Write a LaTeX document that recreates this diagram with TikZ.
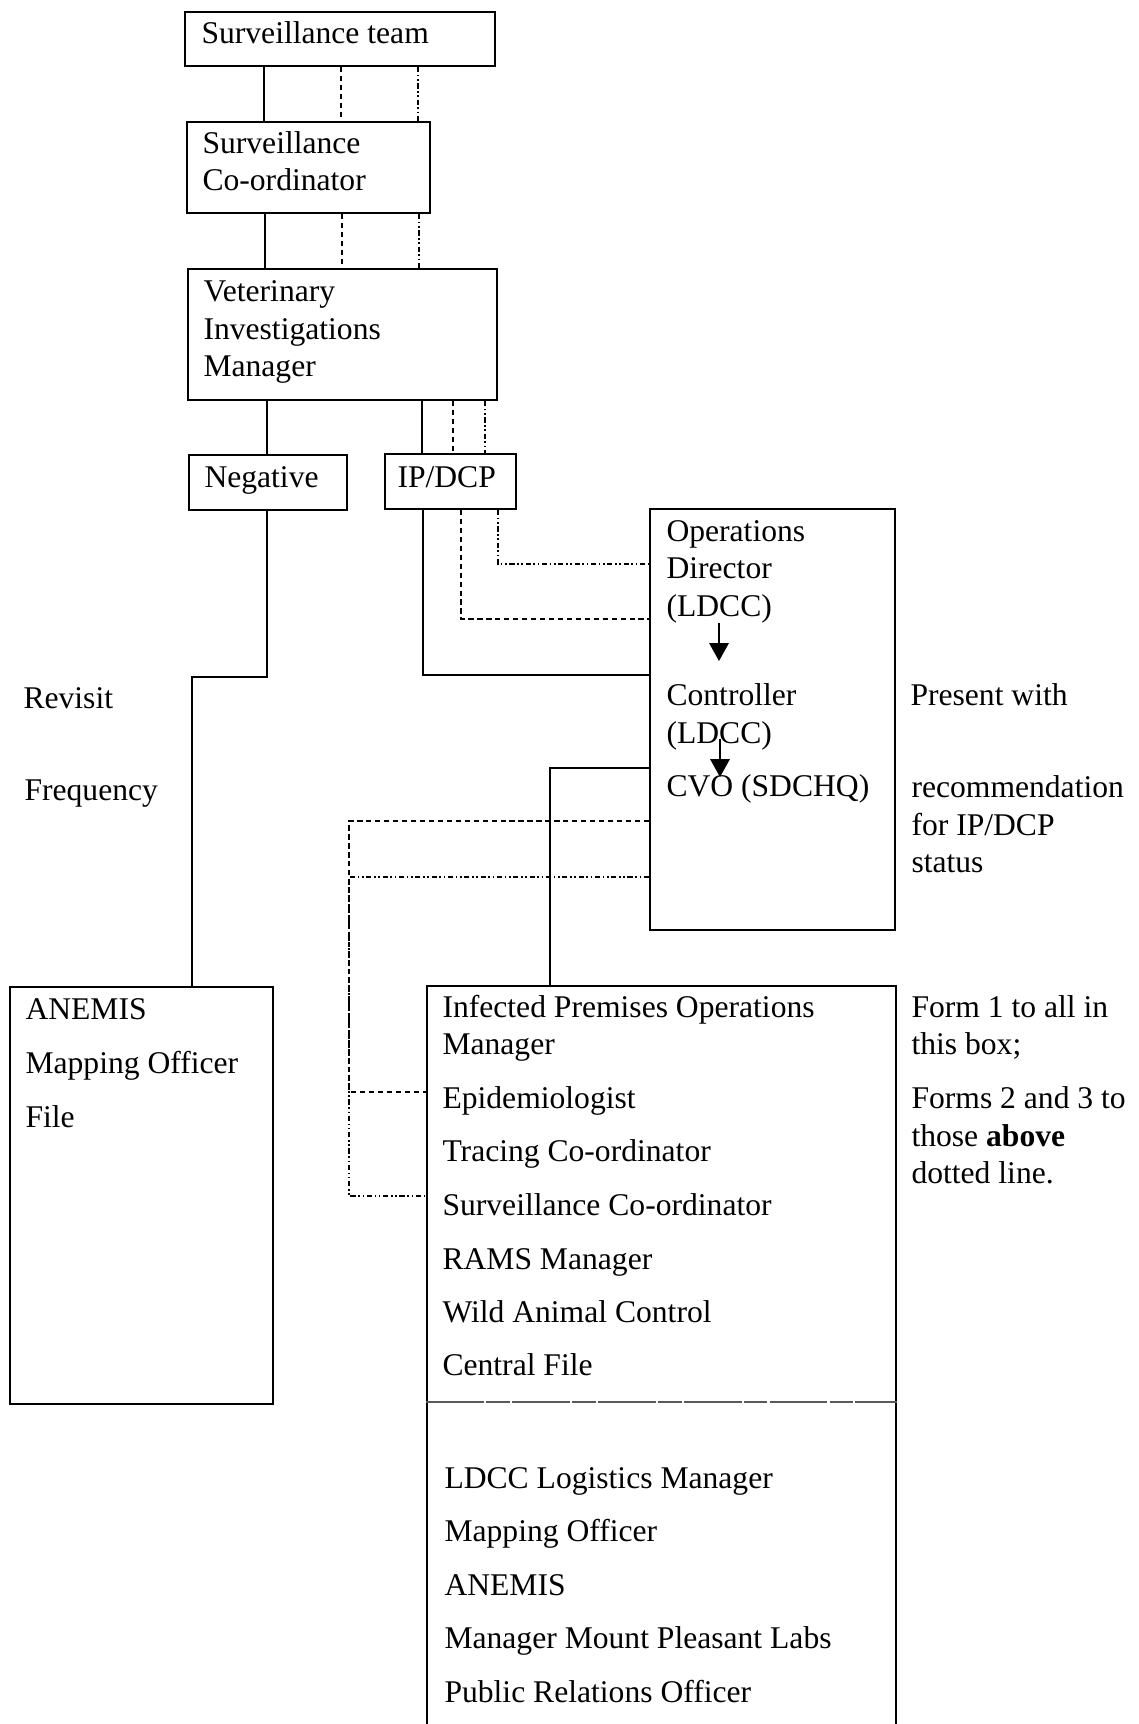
\documentclass[tikz,border=0pt]{standalone}
\usepackage{fontspec}
\setmainfont{Liberation Serif}
\usetikzlibrary{arrows.meta,fit}
\begin{document}
\begin{tikzpicture}[x=0.3797pt,y=-0.3797pt,
  box/.style={draw, line width=0.7pt, inner sep=0pt, fit={#1}},
  lbl/.style={anchor=west, inner sep=0pt, text height=7.9pt, text depth=0pt,
    font=\fontsize{12pt}{14pt}\selectfont},
  link/.style={line width=0.7pt},
  dashlink/.style={line width=0.7pt, dash pattern=on 2pt off 1.4pt},
  dotlink/.style={line width=0.7pt, dash pattern=on 2pt off 1pt on 0.6pt off 1pt on 0.6pt off 1pt},
  flow/.style={line width=0.6pt, -{Triangle[length=6.8pt,width=7.4pt]}},
  divider/.style={line width=0.4pt, black!65, dash pattern=on 22pt off 0.8pt on 9pt off 0.8pt},
]
\clip (0,0) rectangle (1139,1724);

% boxes
\node[box={(185,12) (495,66)}] (st) {};
\node[box={(187,122) (430,213)}] (sc) {};
\node[box={(188,269) (497,400)}] (vim) {};
\node[box={(189,455) (347,510)}] (neg) {};
\node[box={(385,454) (516,509)}] (ip) {};
\node[box={(650,509) (895,930)}] (od) {};
\node[box={(10,987) (273,1404)}] (file) {};
\node[box={(427,986) (896,1760)}] (ipom) {};

% box texts
\node[lbl] (st1) at (201,33) {Surveillance team};
\node[lbl] (sc1) at (202,143) {Surveillance};
\node[lbl] (sc2) at (202,180) {Co-ordinator};
\node[lbl] (vim1) at (203,291) {Veterinary};
\node[lbl] (vim2) at (203,329) {Investigations};
\node[lbl] (vim3) at (203,366) {Manager};
\node[lbl] (neg1) at (204,477) {Negative};
\node[lbl] (ip1) at (397,477) {IP/DCP};

\node[lbl] (od1) at (666,531) {Operations};
\node[lbl] (od2) at (666,568) {Director};
\node[lbl] (od3) at (666,606) {(LDCC)};
\node[lbl] (od4) at (666,695) {Controller};
\node[lbl] (od5) at (666,733) {(LDCC)};
\node[lbl] (od6) at (666,786) {CVO (SDCHQ)};

\node[lbl] (rv1) at (23,698) {Revisit};
\node[lbl] (rv2) at (24,790) {Frequency};

\node[lbl] (f1) at (25,1009) {ANEMIS};
\node[lbl] (f2) at (25,1063) {Mapping Officer};
\node[lbl] (f3) at (25,1117) {File};

\node[lbl] (p1) at (910,695) {Present with};
\node[lbl] (p2) at (911,787) {recommendation};
\node[lbl] (p3) at (911,825) {for IP/DCP};
\node[lbl] (p4) at (911,862) {status};

\node[lbl] (n1) at (911,1007) {Form 1 to all in};
\node[lbl] (n2) at (911,1044) {this box;};
\node[lbl] (n3) at (911,1098) {Forms 2 and 3 to};
\node[lbl] (n4) at (911,1136) {those \textbf{above}};
\node[lbl] (n5) at (911,1173) {dotted line.};

\node[lbl] (i1) at (442,1007) {Infected Premises Operations};
\node[lbl] (i2) at (442,1044) {Manager};
\node[lbl] (i3) at (442,1098) {Epidemiologist};
\node[lbl] (i4) at (442,1151) {Tracing Co-ordinator};
\node[lbl] (i5) at (442,1205) {Surveillance Co-ordinator};
\node[lbl] (i6) at (442,1259) {RAMS Manager};
\node[lbl] (i7) at (442,1312) {Wild Animal Control};
\node[lbl] (i8) at (442,1365) {Central File};
\node[lbl] (i9) at (444,1478) {LDCC Logistics Manager};
\node[lbl] (i10) at (444,1531) {Mapping Officer};
\node[lbl] (i11) at (444,1585) {ANEMIS};
\node[lbl] (i12) at (444,1638) {Manager Mount Pleasant Labs};
\node[lbl] (i13) at (444,1692) {Public Relations Officer};

% divider inside the distribution box
\draw[divider] (ipom.west |- 0,1402) -- (ipom.east |- 0,1402);

% surveillance chain
\draw[link]     (264,0 |- st.south) -- (264,0 |- sc.north);
\draw[dashlink] (341,0 |- st.south) -- (341,0 |- sc.north);
\draw[dotlink]  (418,0 |- st.south) -- (418,0 |- sc.north);
\draw[link]     (265,0 |- sc.south) -- (265,0 |- vim.north);
\draw[dashlink] (342,0 |- sc.south) -- (342,0 |- vim.north);
\draw[dotlink]  (419,0 |- sc.south) -- (419,0 |- vim.north);

% outcome branches
\draw[link]     (267,0 |- vim.south) -- (267,0 |- neg.north);
\draw[link]     (422,0 |- vim.south) -- (422,0 |- ip.north);
\draw[dashlink] (453,0 |- vim.south) -- (453,0 |- ip.north);
\draw[dotlink]  (485,0 |- vim.south) -- (485,0 |- ip.north);

% negative result to file box
\draw[link] (267,0 |- neg.south) -- (267,677) -- (192,677) -- (192,0 |- file.north);

% IP/DCP to operations director
\draw[link]     (423,0 |- ip.south) -- (423,675) -- (od.west |- 0,675);
\draw[dashlink] (461,0 |- ip.south) -- (461,619) -- (od.west |- 0,619);
\draw[dotlink]  (498,0 |- ip.south) -- (498,564) -- (od.west |- 0,564);

% chain of command inside the box
\draw[flow] (719,623) -- (719,661);
\draw[flow] (720,739) -- (720,777);

% operations director to distribution box
\draw[link]     (od.west |- 0,768) -- (550,768) -- (550,0 |- ipom.north);
\draw[dashlink] (od.west |- 0,821) -- (349,821) -- (349,1092) -- (ipom.west |- 0,1092);
\draw[dotlink]  (od.west |- 0,877) -- (349,877) -- (349,1196) -- (ipom.west |- 0,1196);
\end{tikzpicture}
\end{document}
